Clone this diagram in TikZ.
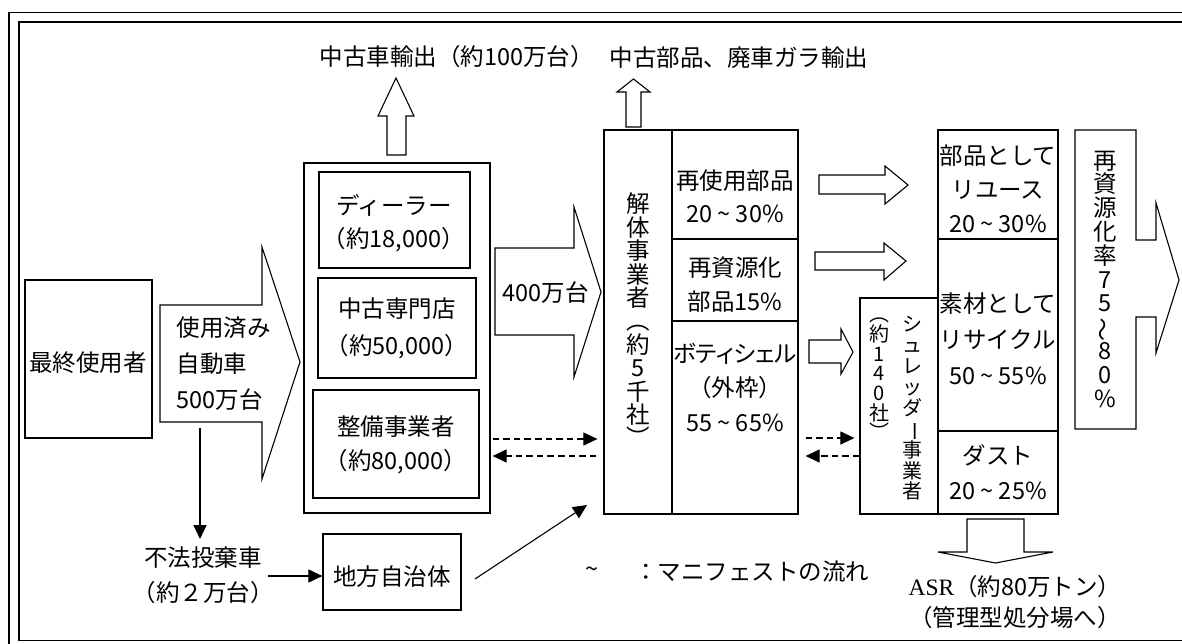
\documentclass[tikz,border=0pt]{standalone}
\usepackage{fontspec}
\setmainfont{Noto Sans CJK JP}
\newfontfamily\asrfont{Liberation Serif}
\newfontfamily\pfont[RawFeature=+palt]{Noto Sans CJK JP}
\usepackage{graphicx}
\usetikzlibrary{arrows.meta,fit}
\newcommand\fs[1]{\fontsize{11.75pt}{#1}\selectfont\lineskiplimit=-100pt\relax}
\newcommand\fsm[1]{\fontsize{10pt}{#1}\selectfont\lineskiplimit=-100pt\relax}
\newcommand\mytilde{\textasciitilde}
\newcommand\vbar{\rotatebox[origin=c]{-90}{ー}}
\newcommand\vwave{\rotatebox[origin=c]{90}{～}}
\begin{document}
\begin{tikzpicture}[x=0.5pt,y=-0.5pt,line width=0.6pt,
  box/.style={draw,inner sep=0pt,fit={#1}},
  txt/.style={inner sep=0pt,align=center,font={\fs{#1}}},
  txt/.default=17pt,
  vtxt/.style={inner sep=0pt,align=center,font={\fs{#1}}},
  vsm/.style={inner sep=0pt,align=center,font={\fsm{#1}}},
  blk/.style={draw,line width=0.55pt,line join=miter},
  arr/.style={-{Triangle[length=7pt,width=6.5pt]},line width=0.55pt},
  darr/.style={arr,dash pattern=on 3.3pt off 2pt}]
\useasboundingbox (0,0) rectangle (1182,643);
\clip (0,0) rectangle (1182,643);
\fill[white] (0,0) rectangle (1182,643);
% frame
\draw[line width=0.6pt] (9,12.5) rectangle (1210,660);
\draw[line width=0.8pt] (19,22) rectangle (1200,640.5);

% final user
\node[box={(25,280)(152,438)}] (user) {};
\node[txt] (usertxt) at (88,363) {最終使用者};

% used cars arrow
\draw[blk] (160,305) -- (262,305) -- (262,247) -- (300,362) -- (262,479) -- (262,422) -- (160,422) -- cycle;
\node[txt=18pt,align=left,anchor=west] (usedtxt) at (176,364) {使用済み\\自動車\\500万台};

% dealers group
\node[box={(304,163)(490,513)}] (dealer) {};
\node[box={(319,172)(470,268)}] (dl) {};
\node[txt=16.5pt] (dltxt) at (394,223.5) {ディーラー\\（約18,000）};
\node[box={(318,278)(476,378)}] (usedshop) {};
\node[txt=18.5pt] (ustxt) at (397,328.5) {中古専門店\\（約50,000）};
\node[box={(313,390)(479,498)}] (seibi) {};
\node[txt=17pt] (sbtxt) at (396,445) {整備事業者\\（約80,000）};

% export 1
\draw[blk] (387,155) -- (387,116) -- (378,116) -- (396,78) -- (414,116) -- (406,116) -- (406,155) -- cycle;
\node[txt,anchor=west] (exp1) at (319,57) {中古車輸出（約100万台）};

% 400 arrow
\draw[blk] (495,248) -- (574,248) -- (574,207) -- (601,292) -- (574,377) -- (574,335) -- (495,335) -- cycle;
\node[txt,anchor=west] (t400) at (502,293) {400万台};

% dismantlers
\node[box={(604,130)(798,514)}] (kaitai) {};
\draw (672,130) -- (672,514);
\draw (672,239) -- (798,239);
\draw (672,321) -- (798,321);
\node[vtxt=11.7pt] (kaitaitxt) at (638,320) {解\\体\\事\\業\\者\\︵\\約\\5\\千\\社\\︶};
\node[txt=16.5pt] (r1) at (735,196.5) {再使用部品\\20 \mytilde{} 30\%};
\node[txt=17pt] (r2) at (735,285) {再資源化\\部品15\%};
\node[txt=17.25pt] (r3) at (735,387.5) {{\pfont ボティシェル}\\（外枠）\\55 \mytilde{} 65\%};

% export 2
\draw[blk] (626,127) -- (626,92) -- (617,92) -- (633.5,79) -- (650,92) -- (641,92) -- (641,127) -- cycle;
\node[txt,anchor=west] (exp2) at (609,58) {中古部品、廃車ガラ輸出};

% block arrows right
\draw[blk] (819,175) -- (885,175) -- (885,166) -- (908,185) -- (885,204) -- (885,194) -- (819,194) -- cycle;
\draw[blk] (815,252) -- (884,252) -- (884,243) -- (906,261) -- (884,280) -- (884,270) -- (815,270) -- cycle;
\draw[blk] (809,340) -- (841,340) -- (841,329) -- (853,352) -- (841,374) -- (841,363) -- (809,363) -- cycle;

% shredder
\node[box={(860,298)(938,514)}] (shred) {};
\node[vsm=9.85pt] (shtxt1) at (879,379) {︵\\約\\1\\4\\0\\社\\︶};
\node[vsm=10.45pt] (shtxt2) at (912,408.5) {シ\\ュ\\レ\\ッ\\ダ\\\vbar\\事\\業\\者};

% right column
\node[box={(938,130)(1058,514)}] (rcol) {};
\draw (938,239) -- (1058,239);
\draw (938,431) -- (1058,431);
\node[txt=17pt] (c1) at (998,189) {部品として\\リユース\\20 \mytilde{} 30\%};
\node[txt=18pt] (c2) at (998,339) {素材として\\リサイクル\\50 \mytilde{} 55\%};
\node[txt=17.5pt] (c3) at (998,472.5) {ダスト\\20 \mytilde{} 25\%};

% recycling rate arrow
\draw[blk] (1075,130) -- (1136,130) -- (1136,240) -- (1156,240) -- (1156,203) -- (1179,280) -- (1156,353) -- (1156,317) -- (1136,317) -- (1136,429) -- (1075,429) -- cycle;
\node[vtxt=11.9pt] (ratetxt) at (1105,279) {再\\資\\源\\化\\率\\7\\5\\\vwave\\8\\0\\\%};

% ASR arrow
\draw[blk] (967,519) -- (1024,519) -- (1024,552) -- (1053,552) -- (995.5,563) -- (938,552) -- (967,552) -- cycle;
\node[txt=15.5pt] (asr) at (1015,602.5) {{\asrfont ASR}（約80万トン）\\（管理型処分場へ）};

% illegal dumping
\node[txt=17.5pt] (fuho) at (203,575.5) {不法投棄車\\（約２万台）};
\node[box={(323,534)(461,610)}] (jichi) {};
\node[txt] (jichitxt) at (392,577) {地方自治体};

% legend
\node[txt] (lgsym) at (592,572) {\mytilde};
\node[txt,anchor=east] (lgtxt) at (870,572) {：マニフェストの流れ};

% connectors
\coordinate (ub) at (200,428);
\coordinate (fuhotop) at (200,539);
\draw[arr] (ub) -- (fuhotop);
\coordinate (fuhor) at (268,576);
\draw[arr] (fuhor) -- (jichi.west |- fuhor);
\coordinate (jr) at (475,579);
\coordinate (kt) at (587,505);
\draw[arr] (jr) -- (kt);
\coordinate (d1) at (0,439);
\coordinate (d2) at (0,456);
\draw[darr,shorten <=1pt,shorten >=3pt] (dealer.east |- d1) -- (kaitai.west |- d1);
\draw[darr,shorten <=3.5pt,shorten >=1pt] (kaitai.west |- d2) -- (dealer.east |- d2);
\coordinate (s1) at (0,438);
\coordinate (s2) at (0,456);
\draw[darr,shorten <=3.5pt,shorten >=2.5pt] (kaitai.east |- s1) -- (shred.west |- s1);
\draw[darr,shorten >=3.5pt] (shred.west |- s2) -- (kaitai.east |- s2);
\end{tikzpicture}
\end{document}
